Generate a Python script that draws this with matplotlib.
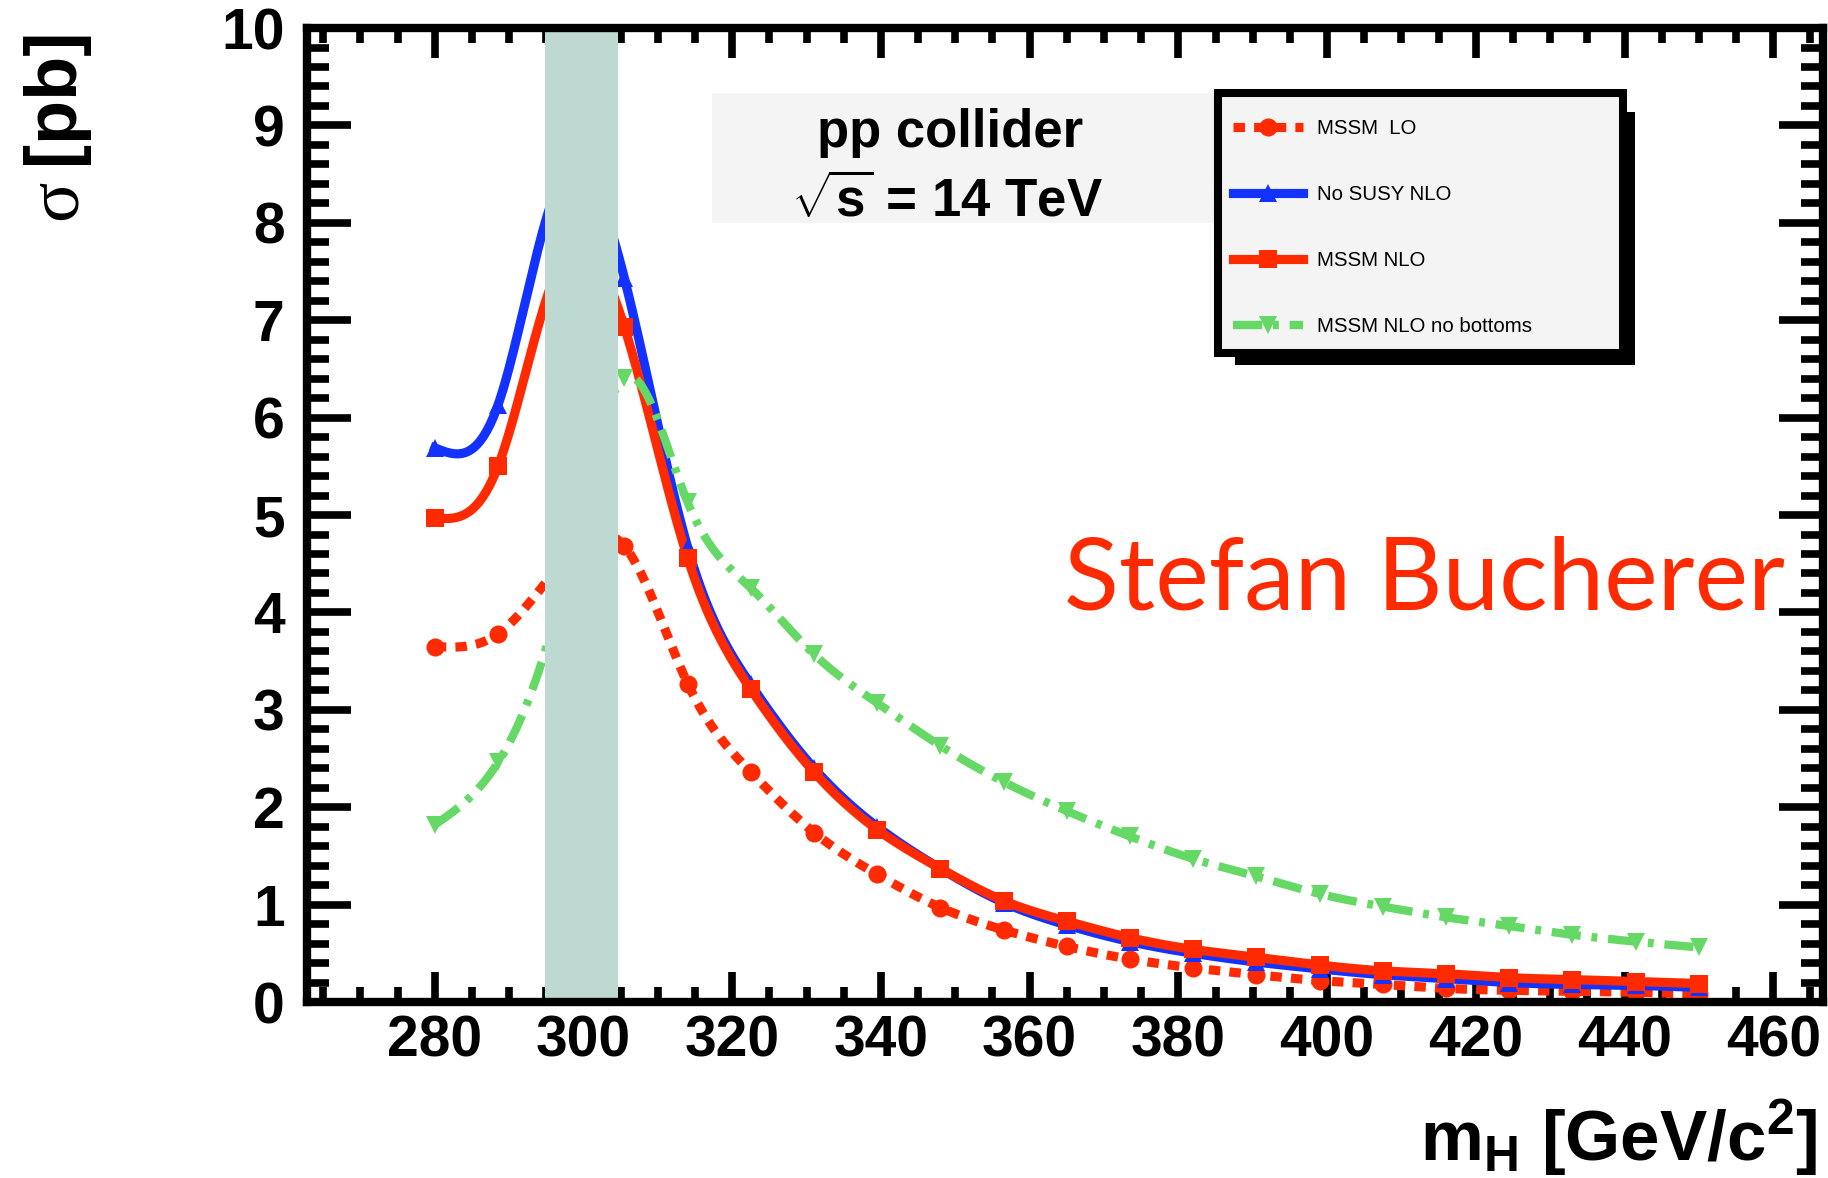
import numpy as np
import matplotlib
matplotlib.use('Agg')
import matplotlib.pyplot as plt
from matplotlib.patches import Rectangle
from matplotlib.ticker import MultipleLocator

plt.rcParams['font.family'] = ['Liberation Sans', 'DejaVu Sans']
plt.rcParams['mathtext.fontset'] = 'custom'
plt.rcParams['mathtext.rm'] = 'Liberation Sans:bold'
plt.rcParams['mathtext.it'] = 'Liberation Sans:bold'
plt.rcParams['mathtext.bf'] = 'Liberation Sans:bold'

# Higgs mass points [GeV/c^2]
mh = [280.0, 288.5, 297.0, 305.5, 314.0, 322.5, 331.0, 339.5, 348.0, 356.5, 365.0,
      373.5, 382.0, 390.5, 399.0, 407.5, 416.0, 424.5, 433.0, 441.5, 450.0]

# cross sections [pb]
mssm_lo = [3.65, 3.78, 4.50, 4.68, 3.27, 2.36, 1.74, 1.31, 0.97, 0.74, 0.57,
           0.44, 0.35, 0.28, 0.22, 0.18, 0.14, 0.12, 0.11, 0.10, 0.08]
nosusy_nlo = [5.69, 6.13, 8.45, 7.43, 4.67, 3.26, 2.40, 1.80, 1.37, 1.02, 0.79,
              0.62, 0.50, 0.41, 0.34, 0.28, 0.24, 0.20, 0.18, 0.17, 0.15]
mssm_nlo = [4.97, 5.50, 7.60, 6.93, 4.56, 3.21, 2.36, 1.77, 1.37, 1.04, 0.83,
            0.66, 0.54, 0.46, 0.38, 0.32, 0.29, 0.25, 0.23, 0.21, 0.19]
mssm_nlo_nob = [1.82, 2.46, 4.20, 6.41, 5.13, 4.25, 3.57, 3.07, 2.63, 2.26, 1.96,
                1.70, 1.47, 1.29, 1.11, 0.98, 0.87, 0.78, 0.69, 0.62, 0.56]

band = (294.8, 304.6)

labels = ['MSSM  LO', 'No SUSY NLO', 'MSSM NLO', 'MSSM NLO no bottoms']

RED = '#ff2a00'
BLUE = '#1432ff'
GREEN = '#66d866'


def smooth(x, y, n=800):
    # natural cubic spline through the points (like ROOT's "C" draw option)
    x = np.asarray(x, float)
    y = np.asarray(y, float)
    k = len(x)
    h = np.diff(x)
    A = np.zeros((k, k))
    r = np.zeros(k)
    A[0, 0] = A[-1, -1] = 1
    for i in range(1, k - 1):
        A[i, i - 1] = h[i - 1]
        A[i, i] = 2 * (h[i - 1] + h[i])
        A[i, i + 1] = h[i]
        r[i] = 6 * ((y[i + 1] - y[i]) / h[i] - (y[i] - y[i - 1]) / h[i - 1])
    M = np.linalg.solve(A, r)
    xs = np.linspace(x[0], x[-1], n)
    j = np.clip(np.searchsorted(x, xs) - 1, 0, k - 2)
    t0 = x[j + 1] - xs
    t1 = xs - x[j]
    hj = h[j]
    ys = (M[j] * t0 ** 3 + M[j + 1] * t1 ** 3) / (6 * hj) \
        + (y[j] / hj - M[j] * hj / 6) * t0 + (y[j + 1] / hj - M[j + 1] * hj / 6) * t1
    return xs, ys


fig = plt.figure(figsize=(18.28, 11.78), dpi=100)
ax = fig.add_axes([0.1679, 0.1494, 0.9973 - 0.1679, 0.9762 - 0.1494])

series = [
    (mssm_lo, RED, (0, (1.25, 1.0)), 'o', 13, 6.6),
    (nosusy_nlo, BLUE, '-', '^', 13, 6.6),
    (mssm_nlo, RED, '-', 's', 13, 6.6),
    (mssm_nlo_nob, GREEN, (0, (3.5, 1.3, 0.7, 1.3)), 'v', 13, 6.0),
]

handles = []
for (vals, col, ls, mk, ms, lw), lab in zip(series, labels):
    xs, ys = smooth(mh, vals)
    ax.plot(xs, ys, color=col, linestyle=ls, linewidth=lw, zorder=1.7)
    ax.plot(mh, vals, linestyle='none', marker=mk, markersize=ms, color=col,
            markeredgewidth=0, zorder=1.75)
    h, = ax.plot([], [], color=col, linestyle=ls, linewidth=lw, marker=mk,
                 markersize=ms, markeredgewidth=0, label=lab)
    handles.append(h)

ax.axvspan(band[0], band[1], color='#bdd9d2', zorder=2, linewidth=0)

ax.set_xlim(262.8, 466.7)
ax.set_ylim(0, 10)
ax.xaxis.set_major_locator(MultipleLocator(20))
ax.xaxis.set_minor_locator(MultipleLocator(5))
ax.yaxis.set_major_locator(MultipleLocator(1))
ax.yaxis.set_minor_locator(MultipleLocator(0.2))

for s in ax.spines.values():
    s.set_linewidth(6)
ax.tick_params(which='both', direction='in', top=True, right=True, width=5.5,
               labelsize=41)
ax.tick_params(axis='x', which='major', length=21.5, pad=9)
ax.tick_params(axis='x', which='minor', length=11)
ax.tick_params(axis='y', which='major', length=32, pad=16)
ax.tick_params(axis='y', which='minor', length=16)
for t in ax.get_xticklabels() + ax.get_yticklabels():
    t.set_fontweight('bold')

# axis titles
fig.text(1817 / 1828, 1 - 1160 / 1178, r'm$_{\mathrm{H}}$ [GeV/c$^{\mathrm{2}}$]',
         fontsize=51, fontweight='bold', ha='right', va='baseline')
fig.text(54 / 1828, 1 - 28 / 1178, '[pb]', rotation=90, fontsize=52,
         fontweight='bold', ha='center', va='top')
fig.text(58 / 1828, 1 - 180 / 1178, '\u03c3', rotation=90, fontsize=54,
         family='Liberation Serif', ha='center', va='top')

# info box
fig.patches.append(Rectangle((712 / 1828, 1 - 223 / 1178), 506 / 1828, 130 / 1178,
                             transform=fig.transFigure, facecolor='#f4f4f4',
                             edgecolor='none', zorder=3))
fig.text(950 / 1828, 1 - 147 / 1178, 'pp collider', fontsize=38, fontweight='bold',
         ha='center', va='baseline', zorder=3.5)
fig.text(947 / 1828, 1 - 217 / 1178, r'$\sqrt{\mathrm{s}}$ = 14 TeV', fontsize=38,
         fontweight='bold', ha='center', va='baseline', zorder=3.5)

# legend box with shadow
fig.patches.append(Rectangle((1235 / 1828, 1 - 365 / 1178), 400 / 1828, 253 / 1178,
                             transform=fig.transFigure, facecolor='black',
                             edgecolor='none', zorder=4))
fig.patches.append(Rectangle((1218 / 1828, 1 - 353 / 1178), 405 / 1828, 260 / 1178,
                             transform=fig.transFigure, facecolor='#f4f4f4',
                             edgecolor='black', linewidth=5.8, zorder=4.1))
leg = fig.legend(handles=handles, loc='upper left', frameon=False,
                 bbox_to_anchor=(1233 / 1828, 1 - 119 / 1178),
                 bbox_transform=fig.transFigure, fontsize=14.7, numpoints=1,
                 handlelength=3.43, handletextpad=0.69, labelspacing=2.3,
                 borderpad=0, borderaxespad=0)
leg.set_zorder(5)

fig.text(1064 / 1828, 1 - 609 / 1178, 'Stefan Bucherer', family='Lato',
         fontsize=73, color=RED, ha='left', va='baseline', zorder=6)

fig.savefig('out.png', dpi=100)
